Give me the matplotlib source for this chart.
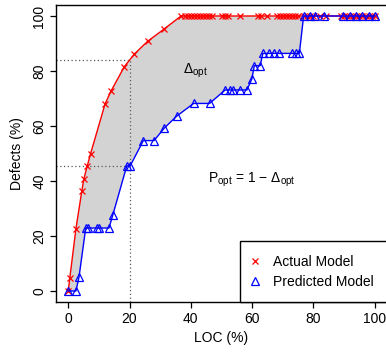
import numpy as np
import matplotlib
matplotlib.use("Agg")
import matplotlib.pyplot as plt
from matplotlib.lines import Line2D

plt.rcParams["font.family"] = ["Liberation Sans", "DejaVu Sans"]
plt.rcParams["mathtext.fontset"] = "custom"
plt.rcParams["mathtext.rm"] = "Liberation Sans"
plt.rcParams["mathtext.it"] = "Liberation Sans"
plt.rcParams["mathtext.default"] = "regular"

# Actual model cumulative curve (LOC %, Defects %)
actual_x = [0, 0.5, 2.5, 4.4, 5.1, 6.2, 7.3, 12, 14, 18.3, 21.6, 25.9, 31.2,
            36.8, 38, 39, 40, 41, 42, 43, 44, 45, 46, 47, 50, 51, 52, 56,
            62, 63, 65, 68, 69, 70, 71, 72, 73, 74, 75, 77, 78, 79, 80, 82,
            84, 89, 90, 91, 92, 93, 94, 95, 96, 97, 98, 99, 100]
actual_y = [0, 4.7, 22.6, 36.2, 40.8, 45.5, 50, 68, 72.8, 81.6, 86.2, 90.8,
            95.2] + [100] * 44

# Predicted model cumulative curve
pred_x = [0, 2.5, 3.5, 5.7, 6.5, 9.3, 10, 13.3, 14.5, 19.1, 20.2, 24.5, 28,
          31.3, 35.4, 40.9, 46.1, 51.2, 52.8, 53.9, 56.1, 58.3, 59.9, 60.7,
          62.6, 63.5, 65.4, 67, 68.9, 73, 74.4, 75.4, 76.8, 79, 80.6, 83.3,
          89.8, 92, 94, 96, 98, 100]
pred_y = [0, 0, 5, 22.9, 22.9, 22.9, 22.9, 22.9, 27.5, 45.5, 45.5, 54.7,
          54.7, 59.2, 63.6, 68.2, 68.2, 73.1, 73.1, 73.1, 73.1, 73.1, 77.1,
          81.9, 81.9, 86.4, 86.4, 86.4, 86.4, 86.4, 86.4, 86.4, 100, 100,
          100, 100, 100, 100, 100, 100, 100, 100]

cutoff = 20  # LOC % cut-off for the dotted guide lines
ticks = [0, 20, 40, 60, 80, 100]

fig = plt.figure(figsize=(3.86, 3.53), dpi=100)
ax = fig.add_axes([56 / 386, 51 / 353, 331 / 386, 297 / 353])
ax.set_xlim(-4, 104)
ax.set_ylim(-4, 104)

# shaded area between the two curves
poly_x = list(actual_x) + list(pred_x[::-1])
poly_y = list(actual_y) + list(pred_y[::-1])
ax.fill(poly_x, poly_y, color="lightgray", lw=0, zorder=1)

ax.plot(actual_x, actual_y, color="red", lw=1, marker="x", ms=4.5,
        mew=0.9, zorder=3)
ax.plot(pred_x, pred_y, color="blue", lw=1, marker="^", ms=5.5,
        mfc="none", mew=0.9, zorder=3)

# dotted guides at the cut-off
a_cut = np.interp(cutoff, actual_x, actual_y)
p_cut = np.interp(cutoff, pred_x, pred_y)
dot = dict(color="0.35", lw=0.9, ls=(0, (1, 2)), zorder=2)
ax.plot([-4, cutoff], [a_cut, a_cut], **dot)
ax.plot([-4, cutoff], [p_cut, p_cut], **dot)
ax.plot([cutoff, cutoff], [-4, a_cut], **dot)

ax.text(37.5, 80, r"$\Delta_{opt}$", fontsize=10, ha="left", va="center")
ax.text(60, 40.5, r"$P_{opt}$ = 1 $-$ $\Delta_{opt}$", fontsize=10,
        ha="center", va="center")

ax.set_xticks(ticks)
ax.set_yticks(ticks)
ax.set_yticklabels([str(t) for t in ticks], rotation=90, va="center")
ax.tick_params(direction="out", length=4, width=0.9, labelsize=10, pad=3)
for s in ax.spines.values():
    s.set_linewidth(1)
ax.set_xlabel("LOC (%)", fontsize=10, labelpad=4)
ax.set_ylabel("Defects (%)", fontsize=10, labelpad=6)

handles = [
    Line2D([], [], color="red", marker="x", ls="none", ms=4.5, mew=0.9),
    Line2D([], [], color="blue", marker="^", ls="none", ms=5.5, mfc="none",
           mew=0.9),
]
leg = ax.legend(handles, ["Actual Model", "Predicted Model"], loc="lower right",
                bbox_to_anchor=(1, 0), borderaxespad=0, fancybox=False,
                edgecolor="black", fontsize=10, handlelength=0.25,
                handletextpad=1.2, borderpad=0.95, labelspacing=0.45)
leg.get_frame().set_linewidth(1)
leg.get_frame().set_alpha(1)

fig.savefig("out.png", dpi=100)
